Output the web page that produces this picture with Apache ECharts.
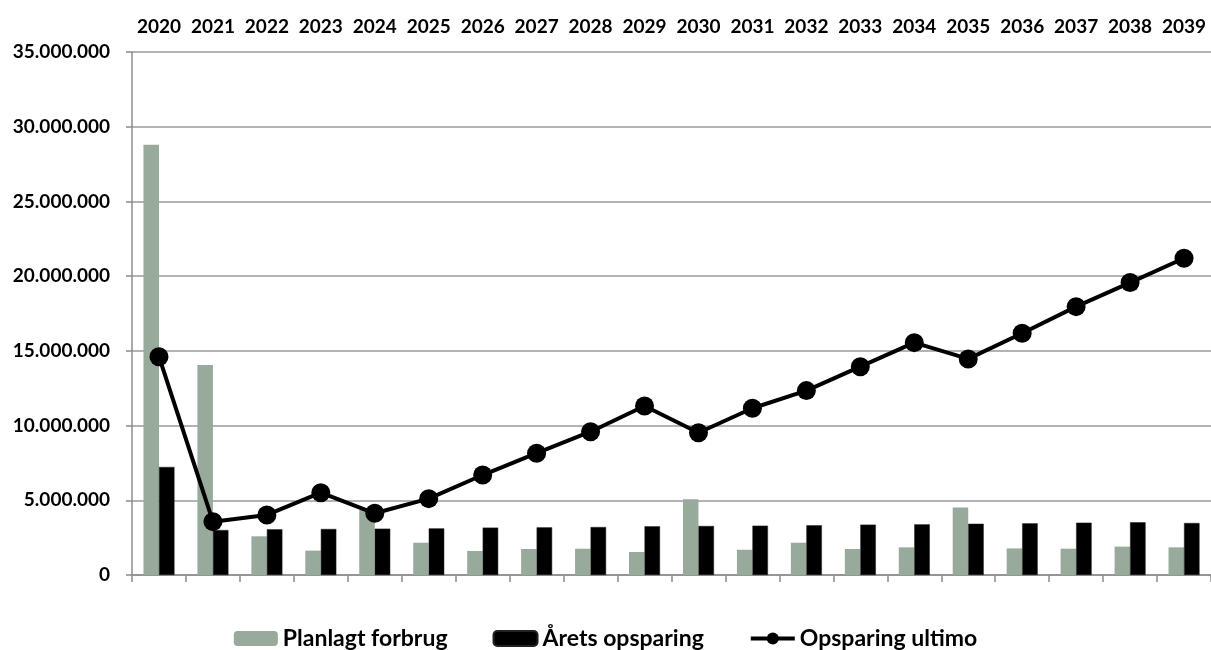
<!DOCTYPE html>
<html>
<head>
<meta charset="utf-8">
<script src="https://cdn.jsdelivr.net/npm/echarts@6/dist/echarts.min.js"></script>
<style>
html,body{margin:0;padding:0;background:#fff;}
#chart{width:1211px;height:650px;}
</style>
</head>
<body>
<div id="chart"></div>
<script>
var years = ['2020','2021','2022','2023','2024','2025','2026','2027','2028','2029','2030','2031','2032','2033','2034','2035','2036','2037','2038','2039'];
var planlagtForbrug = [28800000,14060000,2590000,1630000,4350000,2160000,1610000,1740000,1760000,1540000,5070000,1690000,2160000,1740000,1850000,4510000,1780000,1760000,1900000,1850000];
var aretsOpsparing = [7230000,3010000,3060000,3080000,3100000,3120000,3170000,3190000,3210000,3260000,3280000,3300000,3330000,3370000,3390000,3430000,3460000,3500000,3530000,3480000];
var opsparingUltimo = [14610000,3570000,4020000,5510000,4130000,5110000,6690000,8150000,9590000,11310000,9520000,11160000,12340000,13940000,15550000,14460000,16180000,17960000,19570000,21200000];

var FONT = 'Lato';
function fmt(v){ return String(v).replace(/\B(?=(\d{3})+(?!\d))/g, '.'); }

var chart = echarts.init(document.getElementById('chart'));
chart.setOption({
  animation: false,
  backgroundColor: '#ffffff',
  textStyle: { fontFamily: FONT },
  grid: { left: 132, right: -5, top: 52, bottom: 75, containLabel: false },
  legend: {
    left: 'center',
    top: 622,
    itemWidth: 44,
    itemHeight: 15,
    itemGap: 45,
    textStyle: { fontFamily: FONT, fontWeight: 'bold', fontSize: 23, color: '#000' },
    data: [
      { name: 'Planlagt forbrug' },
      { name: 'Årets opsparing' },
      { name: 'Opsparing ultimo', itemStyle: { color: '#000' }, lineStyle: { width: 4, color: '#000' } }
    ]
  },
  xAxis: [
    {
      type: 'category',
      data: years,
      position: 'bottom',
      axisLine: { show: true, lineStyle: { color: '#8c8c8c', width: 1.5 } },
      axisTick: { show: true, interval: 0, length: 7, lineStyle: { color: '#8c8c8c', width: 1.5 } },
      axisLabel: { show: false }
    },
    {
      type: 'category',
      data: years,
      position: 'top',
      axisLine: { show: false },
      axisTick: { show: false },
      axisLabel: { show: true, interval: 0, margin: 16, fontFamily: FONT, fontWeight: 'bold', fontSize: 19, color: '#000' }
    }
  ],
  yAxis: {
    type: 'value',
    min: 0,
    max: 35000000,
    interval: 5000000,
    axisLine: { show: true, lineStyle: { color: '#8c8c8c', width: 1.5 } },
    axisTick: { show: true, length: 6, lineStyle: { color: '#8c8c8c', width: 1.5 } },
    splitLine: { show: true, lineStyle: { color: '#9a9a9a', width: 1.5 } },
    axisLabel: { margin: 22, fontFamily: FONT, fontWeight: 'bold', fontSize: 19, color: '#000', formatter: fmt }
  },
  series: [
    {
      name: 'Planlagt forbrug',
      type: 'bar',
      xAxisIndex: 0,
      data: planlagtForbrug,
      barWidth: 15.5,
      barGap: '0%',
      itemStyle: { color: '#97aa9b' }
    },
    {
      name: 'Årets opsparing',
      type: 'bar',
      xAxisIndex: 0,
      data: aretsOpsparing,
      barWidth: 15.5,
      barGap: '0%',
      itemStyle: { color: '#000000', borderColor: '#222', borderWidth: 0.5 }
    },
    {
      name: 'Opsparing ultimo',
      type: 'line',
      xAxisIndex: 0,
      data: opsparingUltimo,
      symbol: 'circle',
      symbolSize: 19,
      lineStyle: { color: '#000', width: 4 },
      itemStyle: { color: '#000' }
    }
  ]
});
</script>
</body>
</html>
